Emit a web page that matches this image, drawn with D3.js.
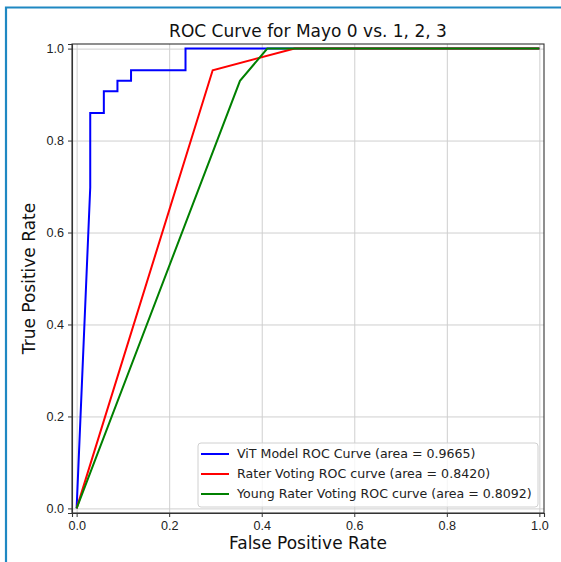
<!DOCTYPE html>
<html lang="en">
<head>
<meta charset="utf-8">
<title>ROC Curve for Mayo 0 vs. 1, 2, 3</title>
<style>
    body { margin: 0; background: white; }
    svg { display: block; font-family: "DejaVu Sans", sans-serif; }
    .axis path { stroke: #333; stroke-width: 1.1px; }
    .axis line { stroke: #333; }
    .axis text { font-size: 12.6px; fill: #222; }
    .grid line { stroke: #cfcfcf; stroke-width: 1px; }
    .grid path { stroke: none; }
    .roc { fill: none; stroke-width: 2px; stroke-linejoin: miter; }
</style>
</head>
<body>
<script src="https://d3js.org/d3.v7.min.js"></script>
<svg width="561" height="562"></svg>
<script>
    // ROC points
    var vitFpr = [0, 0.0294, 0.0294, 0.0588, 0.0588, 0.0882, 0.0882, 0.1176, 0.1176, 0.2353, 0.2353, 1.0];
    var vitTpr = [0, 0.698, 0.860, 0.860, 0.907, 0.907, 0.930, 0.930, 0.953, 0.953, 1.0, 1.0];
    var raterFpr = [0, 0.294, 0.471, 1.0];
    var raterTpr = [0, 0.953, 1.0, 1.0];
    var youngFpr = [0, 0.353, 0.412, 1.0];
    var youngTpr = [0, 0.930, 1.0, 1.0];

    var seriesNames = ["ViT Model ROC Curve (area = 0.9665)",
        "Rater Voting ROC curve (area = 0.8420)",
        "Young Rater Voting ROC curve (area = 0.8092)"];
    var seriesColors = ["#0000ff", "#ff0000", "#008000"];
    var tickValues = [0, 0.2, 0.4, 0.6, 0.8, 1.0];

    var svg = d3.select("svg");

    // blue frame around the picture
    svg.append("path")
        .attr("d", "M6,562 V7.5 H561")
        .attr("fill", "none")
        .attr("stroke", "#1f88c2")
        .attr("stroke-width", 2.2);

    var plot = {left: 72, right: 544, top: 44, bottom: 513};

    var x = d3.scaleLinear().domain([-0.01, 1.01]).range([plot.left, plot.right]);
    var y = d3.scaleLinear().domain([-0.01, 1.01]).range([plot.bottom, plot.top]);

    // gridlines
    svg.append("g")
        .attr("class", "grid")
        .attr("transform", "translate(0," + plot.bottom + ")")
        .call(d3.axisBottom(x).tickValues(tickValues).tickSize(-(plot.bottom - plot.top)).tickFormat(""));
    svg.append("g")
        .attr("class", "grid")
        .attr("transform", "translate(" + plot.left + ",0)")
        .call(d3.axisLeft(y).tickValues(tickValues).tickSize(-(plot.right - plot.left)).tickFormat(""));

    // curves
    var series = [
        {fpr: vitFpr, tpr: vitTpr},
        {fpr: raterFpr, tpr: raterTpr},
        {fpr: youngFpr, tpr: youngTpr}
    ];
    var line = d3.line()
        .x(function(d) { return x(d[0]); })
        .y(function(d) { return y(d[1]); });

    series.forEach(function(s, i) {
        svg.append("path")
            .datum(d3.zip(s.fpr, s.tpr))
            .attr("class", "roc")
            .attr("stroke", seriesColors[i])
            .attr("d", line);
    });

    // spines
    svg.append("rect")
        .attr("x", plot.left)
        .attr("y", plot.top)
        .attr("width", plot.right - plot.left)
        .attr("height", plot.bottom - plot.top)
        .attr("fill", "none")
        .attr("stroke", "#333")
        .attr("stroke-width", 1.1);

    // axes
    svg.append("g")
        .attr("class", "axis")
        .attr("transform", "translate(0," + plot.bottom + ")")
        .call(d3.axisBottom(x).tickValues(tickValues).tickSize(4).tickPadding(4).tickFormat(d3.format(".1f")));
    svg.append("g")
        .attr("class", "axis")
        .attr("transform", "translate(" + plot.left + ",0)")
        .call(d3.axisLeft(y).tickValues(tickValues).tickSize(4).tickPadding(4).tickFormat(d3.format(".1f")));

    // titles
    svg.append("text")
        .attr("x", (plot.left + plot.right) / 2)
        .attr("y", 37)
        .attr("text-anchor", "middle")
        .attr("font-size", "17px")
        .attr("fill", "#111")
        .text("ROC Curve for Mayo 0 vs. 1, 2, 3");

    svg.append("text")
        .attr("x", (plot.left + plot.right) / 2)
        .attr("y", 549)
        .attr("text-anchor", "middle")
        .attr("font-size", "17px")
        .attr("fill", "#111")
        .text("False Positive Rate");

    svg.append("text")
        .attr("transform", "translate(35," + (plot.top + plot.bottom) / 2 + ") rotate(-90)")
        .attr("text-anchor", "middle")
        .attr("font-size", "17px")
        .attr("fill", "#111")
        .text("True Positive Rate");

    // legend
    var legend = svg.append("g").attr("transform", "translate(198,443)");
    legend.append("rect")
        .attr("width", 340)
        .attr("height", 64)
        .attr("rx", 3)
        .attr("fill", "white")
        .attr("fill-opacity", 0.8)
        .attr("stroke", "#d0d0d0");

    var rows = legend.selectAll(".row")
        .data(seriesNames)
        .enter()
        .append("g")
        .attr("transform", function(d, i) { return "translate(0," + (11 + i * 20) + ")"; });
    rows.append("line")
        .attr("x1", 3).attr("x2", 31)
        .attr("stroke", function(d, i) { return seriesColors[i]; })
        .attr("stroke-width", 2);
    rows.append("text")
        .attr("x", 39)
        .attr("dy", "0.35em")
        .attr("font-size", "12.6px")
        .attr("fill", "#222")
        .text(function(d) { return d; });
</script>
</body>
</html>
